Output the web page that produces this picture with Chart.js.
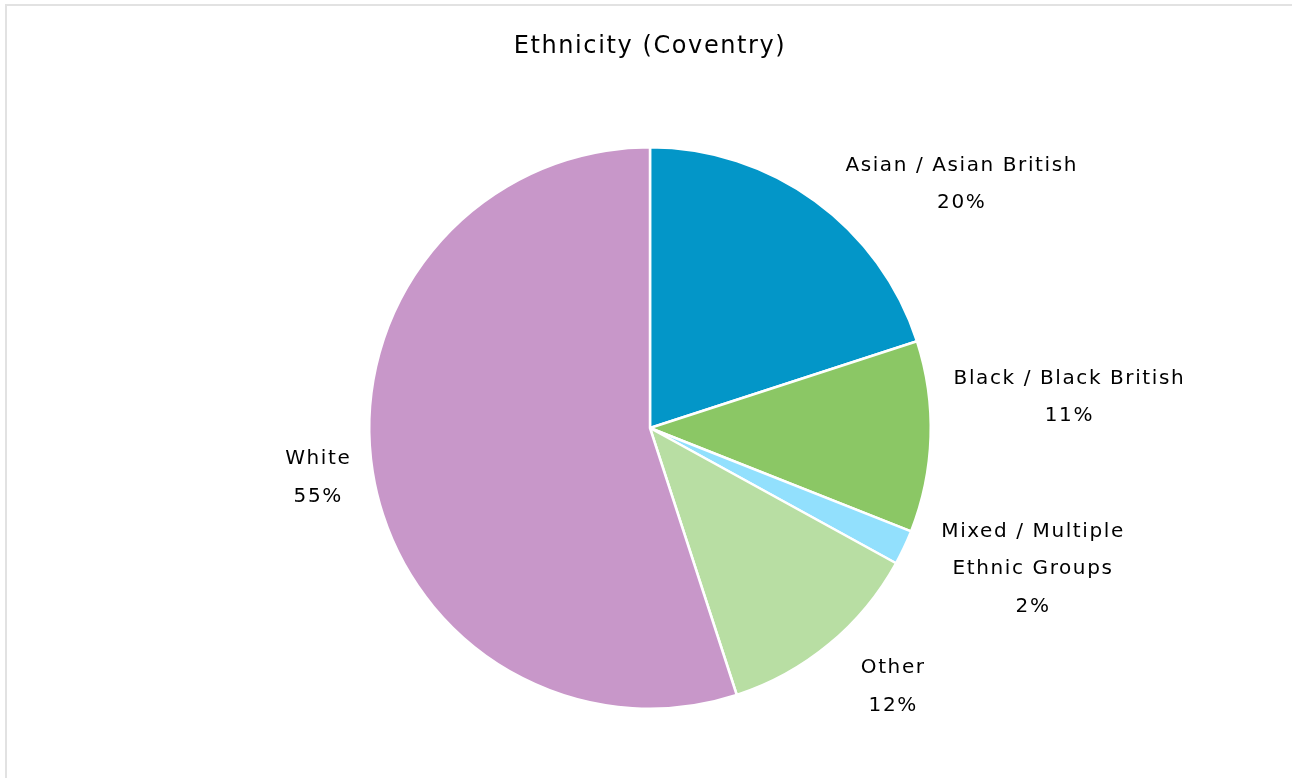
<!DOCTYPE html>
<html>
<head>
<meta charset="utf-8">
<script src="https://cdn.jsdelivr.net/npm/chart.js@4/dist/chart.umd.min.js"></script>
<style>
  html, body { margin: 0; padding: 0; background: #fff; }
  #wrap { position: absolute; left: 0; top: 0; width: 1292px; height: 778px; }
  #frame { position: absolute; left: 5px; top: 4px; right: -10px; bottom: -10px;
           border-left: 2px solid #e2e2e2; border-top: 2px solid #e2e2e2; }
</style>
</head>
<body>
<div id="wrap">
  <div id="frame"></div>
  <canvas id="pieChart"></canvas>
</div>
<script>
// Ethnicity shares for Coventry (percent)
const groups = ['Asian / Asian British', 'Black / Black British', 'Mixed / Multiple Ethnic Groups', 'Other', 'White'];
const shares = [20, 11, 2, 12, 55];
const colours = ['#0396c8', '#8bc765', '#92e0fd', '#b8dea3', '#c897c9'];

// label text split over lines, like the original
const labelLines = [
  ['Asian / Asian British'],
  ['Black / Black British'],
  ['Mixed / Multiple', 'Ethnic Groups'],
  ['Other'],
  ['White']
];
// small nudges so labels sit where the original put them
const nudge = [[1, 24], [-27, -41], [-8, 0], [0, 4], [28, -2]];

const FONT = '"DejaVu Sans", Verdana, sans-serif';

const outsideLabels = {
  id: 'outsideLabels',
  afterDatasetsDraw(chart) {
    const ctx = chart.ctx;
    const meta = chart.getDatasetMeta(0);
    ctx.save();
    ctx.font = '20px ' + FONT;
    ctx.letterSpacing = '1.6px';
    ctx.fillStyle = '#000';
    ctx.textBaseline = 'middle';
    ctx.textAlign = 'center';
    const lh = 37.5;
    meta.data.forEach((arc, i) => {
      const p = arc.getProps(['x', 'y', 'startAngle', 'endAngle', 'outerRadius'], true);
      const mid = (p.startAngle + p.endAngle) / 2;
      const r = p.outerRadius + 50;
      const ax = p.x + Math.cos(mid) * r + nudge[i][0];
      const ay = p.y + Math.sin(mid) * r + nudge[i][1];
      const lines = labelLines[i].concat([shares[i] + '%']);
      const w = Math.max(...lines.map(l => ctx.measureText(l).width));
      const right = Math.cos(mid) >= 0;
      const cx = right ? ax + w / 2 : ax - w / 2;
      const top = ay - (lines.length - 1) * lh / 2;
      lines.forEach((l, k) => ctx.fillText(l, cx, top + k * lh));
    });
    ctx.restore();
  }
};

// title drawn by hand so it can use the same letter spacing
const spacedTitle = {
  id: 'spacedTitle',
  afterDraw(chart) {
    const ctx = chart.ctx;
    ctx.save();
    ctx.font = '24px ' + FONT;
    ctx.letterSpacing = '1.6px';
    ctx.fillStyle = '#000';
    ctx.textAlign = 'center';
    ctx.textBaseline = 'middle';
    ctx.fillText('Ethnicity (Coventry)', 650, 47);
    ctx.restore();
  }
};

new Chart(document.getElementById('pieChart'), {
  type: 'pie',
  data: {
    labels: groups,
    datasets: [{
      data: shares,
      backgroundColor: colours,
      borderColor: '#ffffff',
      borderWidth: 2.5
    }]
  },
  options: {
    responsive: true,
    maintainAspectRatio: false,
    animation: false,
    layout: { padding: { top: 146, bottom: 68, left: 368, right: 360 } },
    plugins: {
      legend: { display: false },
      tooltip: { enabled: false },
      title: { display: false }
    }
  },
  plugins: [outsideLabels, spacedTitle]
});
</script>
</body>
</html>
